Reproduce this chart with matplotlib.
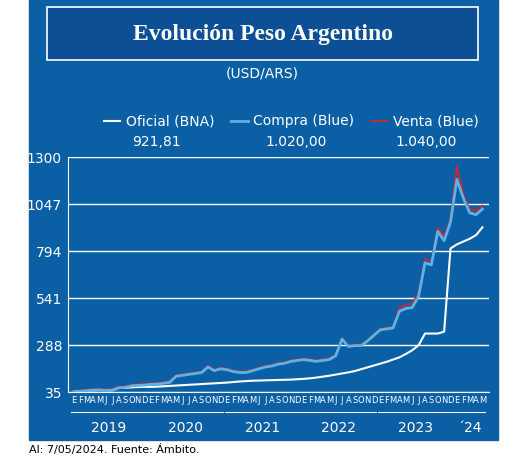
import numpy as np
import matplotlib.pyplot as plt
from matplotlib.patches import Rectangle

# monthly values, Jan 2019 .. May 2024
oficial = [38, 39, 42, 44, 46, 45, 44, 58, 58, 60, 62, 63,
           63, 64, 66, 68, 70, 72, 74, 76, 78, 80, 82, 84,
           86, 89, 92, 94, 96, 97, 98, 99, 100, 101, 102, 104,
           106, 109, 113, 118, 123, 129, 135, 141, 148, 158, 168, 178,
           188, 198, 210, 222, 240, 260, 287, 350, 350, 350, 360, 808,
           830, 845, 860, 880, 921.81]
compra = [37, 39, 42, 45, 46, 43, 45, 58, 60, 68, 71, 72,
          76, 78, 82, 87, 120, 125, 130, 135, 140, 170, 150, 160,
          155, 145, 140, 140, 150, 160, 170, 175, 185, 190, 200, 205,
          210, 205, 200, 205, 210, 230, 320, 280, 285, 285, 310, 340,
          370, 375, 380, 470, 485, 490, 550, 730, 720, 900, 850, 950,
          1180, 1080, 1000, 990, 1020.0]
venta = [v + (20 if i > 50 else 6) for i, v in enumerate(compra)]
venta[-1] = 1040.0
venta[60] = 1250
meses = list("EFMAMJJASOND") * 5 + list("EFMAM")
anios = ["2019", "2020", "2021", "2022", "2023", "´24"]

blue = "#0b5fa5"
fig = plt.figure(figsize=(5.2, 4.58), dpi=100)
fig.patches.append(Rectangle((0.055, 0.04), 0.903, 0.96, transform=fig.transFigure,
                             color=blue, zorder=-2))
fig.patches.append(Rectangle((0.09, 0.87), 0.83, 0.115, transform=fig.transFigure,
                             facecolor="#0d4f95", edgecolor="white", lw=1.2, zorder=-1))
fig.text(0.505, 0.925, "Evolución Peso Argentino", color="white", fontsize=17,
         fontweight="bold", ha="center", va="center", family="Liberation Serif")
fig.text(0.505, 0.84, "(USD/ARS)", color="white", fontsize=10, ha="center", va="center")
for x, val in [(0.3, "921,81"), (0.57, "1.020,00"), (0.82, "1.040,00")]:
    fig.text(x, 0.69, val, color="white", fontsize=10, ha="center", va="center")
fig.text(0.055, 0.012, "Al: 7/05/2024. Fuente: Ámbito.", fontsize=8)

ax = fig.add_axes([0.13, 0.144, 0.81, 0.513])
ax.set_facecolor(blue)
x = np.arange(len(compra))
ax.plot(x, oficial, color="white", lw=1.5, label="Oficial (BNA)")
ax.plot(x, compra, color="#5ab4e6", lw=2, label="Compra (Blue)", zorder=3)
ax.plot(x, venta, color="#e0202a", lw=1.2, label="Venta (Blue)", zorder=2)
ax.set_ylim(35, 1300)
ax.set_xlim(-1, len(x))
ax.set_yticks([35, 288, 541, 794, 1047, 1300])
ax.grid(axis="y", color="white", lw=1)
ax.tick_params(axis="y", colors="white", length=0, labelsize=10, pad=4)
ax.set_xticks(x)
ax.set_xticklabels(meses, fontsize=6, color="white")
ax.tick_params(axis="x", length=0, pad=3)
for s in ax.spines.values():
    s.set_visible(False)
ax.spines["left"].set_visible(True)
ax.spines["left"].set_color("white")
ax.spines["bottom"].set_visible(True)
ax.spines["bottom"].set_color("white")
for i, a in enumerate(anios):
    start = i * 12
    end = min(start + 11, len(x) - 1)
    ax.plot([start - 0.4, end + 0.4], [-0.085, -0.085], transform=ax.get_xaxis_transform(),
            color="white", lw=0.8, clip_on=False)
    ax.text((start + end) / 2, -0.155, a, transform=ax.get_xaxis_transform(),
            color="white", fontsize=10, ha="center", va="center")
fig.legend(loc="center", bbox_to_anchor=(0.56, 0.735), ncol=3, frameon=False,
           fontsize=10, labelcolor="white", handlelength=1.2, columnspacing=1.2,
           handletextpad=0.4)
fig.savefig("out.png", dpi=100)
